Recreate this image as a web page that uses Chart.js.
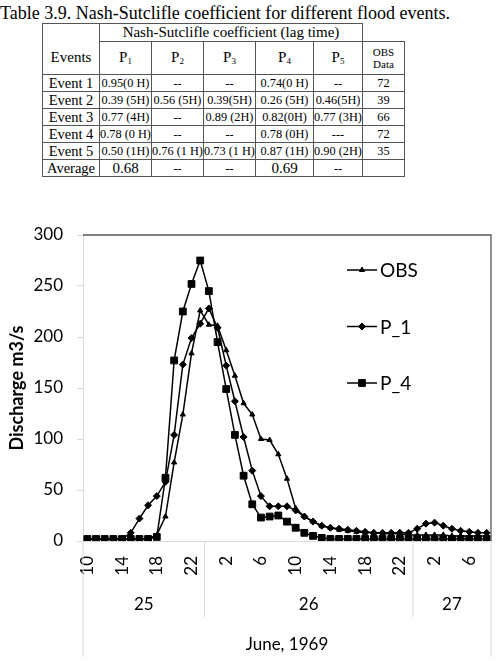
<!DOCTYPE html>
<html>
<head>
<meta charset="utf-8">
<script src="https://cdn.jsdelivr.net/npm/chart.js@4.4.1/dist/chart.umd.min.js"></script>
<style>
  html, body { margin: 0; padding: 0; background: #fff; }
  body { width: 497px; height: 661px; position: relative; overflow: hidden;
         font-family: "Liberation Serif", "Times New Roman", serif; color: #000; }
  #caption { position: absolute; left: 0; top: 3px; font-size: 18px; white-space: nowrap; }
  #nse { position: absolute; left: 42px; top: 23px; border-collapse: collapse; table-layout: fixed; }
  #nse td { border: 1px solid #555; text-align: center; vertical-align: middle; padding: 0;
            font-size: 12.3px; line-height: 1; height: 16px; white-space: nowrap; overflow: hidden; }
  #nse td.ev { font-size: 14.5px; }
  #nse td.head { font-size: 15px; height: 17px; }
  #nse td.events { vertical-align: bottom; padding-bottom: 9px; }
  #nse td.blank { border: none; }
  #nse td.p { font-size: 15px; height: 32px; }
  #nse td.p sub { font-size: 9px; vertical-align: -2px; }
  #nse td.obs { font-size: 11px; line-height: 1.1; }
  #nse td.avg { font-size: 15px; }
  #chartBox { position: absolute; left: 0; top: 180px; width: 497px; height: 481px; }
</style>
</head>
<body>
<div id="caption">Table 3.9. Nash-Sutclifle coefficient for different flood events.</div>
<table id="nse"></table>
<div id="chartBox"><canvas id="flowChart" width="497" height="481"></canvas></div>

<script>
// table contents
const tableCols = ['P1', 'P2', 'P3', 'P4', 'P5'];
const eventNames = ['Event 1', 'Event 2', 'Event 3', 'Event 4', 'Event 5'];
const eventValues = [
    ['0.95(0 H)', '--', '--', '0.74(0 H)', '--'],
    ['0.39 (5H)', '0.56 (5H)', '0.39(5H)', '0.26 (5H)', '0.46(5H)'],
    ['0.77 (4H)', '--', '0.89 (2H)', '0.82(0H)', '0.77 (3H)'],
    ['0.78 (0 H)', '--', '--', '0.78 (0H)', '---'],
    ['0.50 (1H)', '0.76 (1 H)', '0.73 (1 H)', '0.87 (1H)', '0.90 (2H)']
];
const obsData = [72, 39, 66, 72, 35];
const averages = ['0.68', '--', '--', '0.69', '--'];
const colWidths = [57, 52, 52, 52, 58, 49, 42];

// chart data: hourly discharge, 25 June 10h to 27 June 8h
const hours = [10, 11, 12, 13, 14, 15, 16, 17, 18, 19, 20, 21, 22, 23,
               0, 1, 2, 3, 4, 5, 6, 7, 8, 9, 10, 11, 12, 13, 14, 15, 16, 17, 18, 19, 20, 21, 22, 23,
               0, 1, 2, 3, 4, 5, 6, 7, 8];
const dayLabels = ['25', '26', '27'];
const dayStarts = [0, 14, 38];
const monthLabel = 'June, 1969';

const obs = [2, 2, 2, 2, 2, 2, 2, 2, 6, 24, 77, 124, 184, 226,
             212, 211, 187, 162, 135, 124, 100, 99, 85, 61, 32, 24, 19, 15, 13, 11, 10, 9, 8, 8, 7, 7, 7, 6,
             6, 6, 6, 6, 5, 5, 5, 5, 5];
const p1 = [2, 2, 2, 2, 2, 8, 22, 35, 44, 58, 104, 173, 199, 213,
            228, 209, 172, 137, 102, 69, 44, 34, 34, 34, 30, 24, 19, 15, 13, 12, 11, 10, 9, 8, 8, 8, 8, 8,
            12, 17, 18, 15, 12, 10, 9, 8, 8];
const p4 = [2, 2, 2, 2, 2, 2, 2, 2, 4, 62, 177, 225, 252, 275,
            245, 195, 149, 104, 64, 36, 23, 24, 25, 19, 13, 8, 5, 3, 2, 2, 2, 2, 2, 2, 2, 2, 2, 2,
            2, 2, 2, 2, 2, 2, 2, 2, 2];

const yMin = 0, yMax = 300, yStep = 50;

// build the table
function buildTable() {
    const sub = p => p[0] + '<sub>' + p.slice(1) + '</sub>';
    let html = '<colgroup>' + colWidths.map(w => `<col style="width:${w}px">`).join('') + '</colgroup>';
    html += '<tr><td class="head events" rowspan="2">Events</td>' +
            '<td class="head" colspan="5">Nash-Sutclifle coefficient (lag time)</td><td class="blank"></td></tr>';
    html += '<tr>' + tableCols.map(p => `<td class="p">${sub(p)}</td>`).join('') +
            '<td class="obs">OBS<br>Data</td></tr>';
    eventNames.forEach((ev, r) => {
        html += `<tr><td class="ev">${ev}</td>` +
                eventValues[r].map(v => `<td>${v}</td>`).join('') +
                `<td>${obsData[r]}</td></tr>`;
    });
    html += '<tr><td class="ev">Average</td>' +
            averages.map(v => `<td class="${v === '--' ? '' : 'avg'}">${v}</td>`).join('') +
            '<td></td></tr>';
    document.getElementById('nse').innerHTML = html;
}

const tickFont = { family: 'Lato', size: 17 };

// frame, multi-level category labels and legend
const framePlugin = {
    id: 'frame',
    afterDraw(chart) {
        const { ctx, chartArea: a, scales: { x } } = chart;
        ctx.save();
        ctx.strokeStyle = '#595959';
        ctx.lineWidth = 1.3;
        ctx.beginPath();
        ctx.moveTo(a.left, a.top);
        ctx.lineTo(a.right, a.top);
        ctx.lineTo(a.right, a.bottom);
        ctx.stroke();

        const edge = i => i === 0 ? a.left : (x.getPixelForValue(i - 1) + x.getPixelForValue(i)) / 2;
        const bounds = dayStarts.map(edge).concat(a.right);
        ctx.strokeStyle = '#d9d9d9';
        ctx.lineWidth = 1;
        bounds.forEach((bx, k) => {
            const outer = k === 0 || k === bounds.length - 1;
            ctx.beginPath();
            ctx.moveTo(bx, a.bottom);
            ctx.lineTo(bx, a.bottom + (outer ? 116 : 76));
            ctx.stroke();
        });

        ctx.fillStyle = '#000';
        ctx.font = '17px Lato';
        ctx.textAlign = 'center';
        ctx.textBaseline = 'middle';
        dayLabels.forEach((d, k) => ctx.fillText(d, (bounds[k] + bounds[k + 1]) / 2, a.bottom + 64));
        ctx.fillText(monthLabel, (a.left + a.right) / 2, a.bottom + 104);

        // legend inside plot area
        ctx.font = '19px Lato';
        ctx.textAlign = 'left';
        chart.data.datasets.forEach((ds, k) => {
            const ly = a.top + 35 + k * 56.5;
            ctx.strokeStyle = '#000';
            ctx.lineWidth = ds.borderWidth;
            ctx.beginPath();
            ctx.moveTo(347, ly);
            ctx.lineTo(377, ly);
            ctx.stroke();
            ctx.fillStyle = '#000';
            ctx.lineWidth = ds.pointBorderWidth;
            Chart.helpers.drawPoint(ctx, { pointStyle: ds.pointStyle, radius: ds.pointRadius,
                                           rotation: 0, borderWidth: ds.pointBorderWidth }, 362, ly);
            ctx.fillText(ds.label, 380, ly + 1);
        });
        ctx.restore();
    }
};

function series(label, data, pointStyle, radius) {
    return {
        label, data, pointStyle,
        pointRadius: radius,
        pointHoverRadius: radius,
        borderColor: '#000',
        backgroundColor: '#000',
        pointBackgroundColor: '#000',
        pointBorderColor: '#000',
        borderWidth: 1.5,
        pointBorderWidth: 1,
        tension: 0,
        fill: false
    };
}

function createChart() {
    new Chart(document.getElementById('flowChart').getContext('2d'), {
        type: 'line',
        data: {
            labels: hours.map(String),
            datasets: [
                series('OBS', obs, 'triangle', 3),
                series('P_1', p1, 'rectRot', 3.5),
                series('P_4', p4, 'rect', 4.8)
            ]
        },
        options: {
            responsive: false,
            animation: false,
            layout: { padding: { top: 55, right: 6, left: 0, bottom: 0 } },
            plugins: { legend: { display: false }, tooltip: { enabled: false } },
            scales: {
                x: {
                    offset: true,
                    grid: { display: false, drawTicks: false },
                    border: { color: '#d9d9d9' },
                    ticks: {
                        autoSkip: false, maxRotation: 90, minRotation: 90, padding: 15,
                        font: tickFont, color: '#000',
                        callback: (v, i) => i % 4 === 0 ? String(hours[i]) : ''
                    },
                    afterFit: s => { s.height = 120; s.paddingLeft = 0; s.paddingRight = 0; }
                },
                y: {
                    min: yMin, max: yMax,
                    ticks: { stepSize: yStep, padding: 14, font: tickFont, color: '#000' },
                    grid: { drawOnChartArea: false, tickLength: 6, color: '#d9d9d9' },
                    border: { color: '#d9d9d9' },
                    title: { display: true, text: 'Discharge m3/s', color: '#000',
                             font: { family: 'Lato', size: 18, weight: 'bold' }, padding: { top: 6, bottom: 0 } },
                    afterFit: s => { s.width = 83; s.paddingTop = 0; s.paddingBottom = 0; }
                }
            }
        },
        plugins: [framePlugin]
    });
}

buildTable();
createChart();
</script>
</body>
</html>
